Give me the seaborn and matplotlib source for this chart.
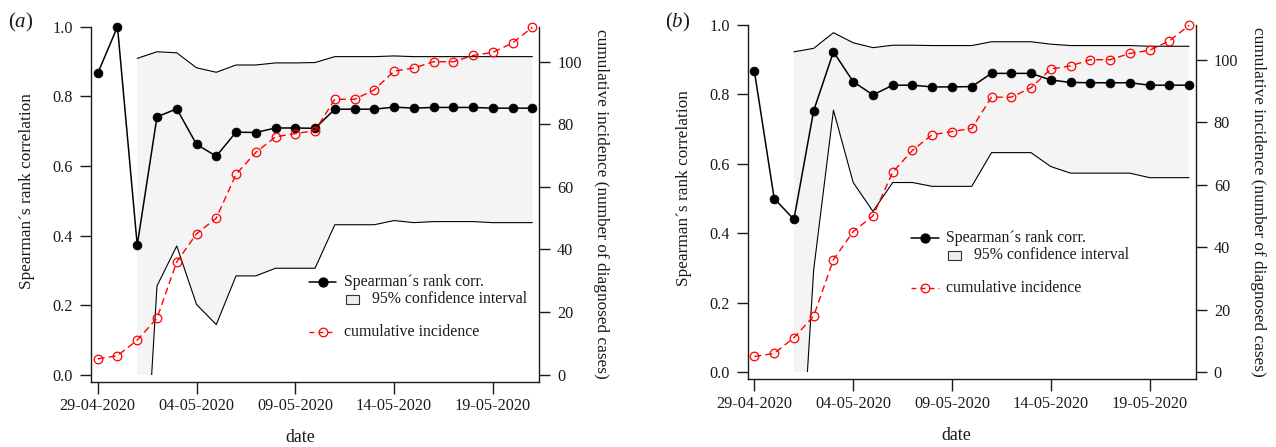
import numpy as np
import pandas as pd
import matplotlib
matplotlib.use("Agg")
import matplotlib.pyplot as plt
import matplotlib.transforms as mtransforms
from matplotlib.patches import Rectangle
import seaborn as sns

# ---------------- data ----------------
dates = pd.date_range("2020-04-29", "2020-05-21", freq="D")
tick_labels = ["29-04-2020", "04-05-2020", "09-05-2020", "14-05-2020", "19-05-2020"]

cum_incidence = [5, 6, 11, 18, 36, 45, 50, 64, 71, 76, 77, 78, 88, 88, 91,
                 97, 98, 100, 100, 102, 103, 106, 111]

rho_a = [0.866, 1.000, 0.372, 0.741, 0.764, 0.662, 0.628, 0.697, 0.696, 0.709,
         0.709, 0.708, 0.763, 0.763, 0.763, 0.769, 0.766, 0.768, 0.768, 0.768,
         0.766, 0.766, 0.766]
ci_low_a = [np.nan, np.nan, -0.69, 0.255, 0.370, 0.202, 0.144, 0.284, 0.284, 0.306,
            0.306, 0.306, 0.431, 0.431, 0.431, 0.443, 0.437, 0.440, 0.440, 0.440,
            0.437, 0.437, 0.437]
ci_up_a = [np.nan, np.nan, 0.909, 0.928, 0.925, 0.882, 0.869, 0.890, 0.890, 0.896,
           0.896, 0.897, 0.914, 0.914, 0.914, 0.916, 0.914, 0.914, 0.914, 0.914,
           0.914, 0.914, 0.914]

rho_b = [0.866, 0.500, 0.440, 0.753, 0.922, 0.836, 0.798, 0.826, 0.826, 0.821,
         0.821, 0.822, 0.860, 0.860, 0.860, 0.841, 0.834, 0.833, 0.833, 0.833,
         0.826, 0.826, 0.826]
ci_low_b = [np.nan, np.nan, -0.63, 0.295, 0.754, 0.546, 0.463, 0.546, 0.546, 0.535,
            0.535, 0.535, 0.632, 0.632, 0.632, 0.592, 0.573, 0.573, 0.573, 0.573,
            0.560, 0.560, 0.560]
ci_up_b = [np.nan, np.nan, 0.922, 0.932, 0.977, 0.948, 0.934, 0.941, 0.941, 0.940,
           0.940, 0.940, 0.951, 0.951, 0.951, 0.944, 0.940, 0.940, 0.940, 0.940,
           0.938, 0.938, 0.938]

legend_labels = ["Spearman\u00b4s rank corr.", "95% confidence interval", "cumulative incidence"]

# ---------------- style ----------------
sns.set_style("ticks")
plt.rcParams["font.family"] = ["Liberation Serif", "DejaVu Serif"]
plt.rcParams["mathtext.fontset"] = "custom"
plt.rcParams["mathtext.rm"] = "Liberation Serif"
plt.rcParams["mathtext.it"] = "Liberation Serif:italic"
plt.rcParams["axes.linewidth"] = 1.0

TXT = "#1a1a1a"
FW, FH = 1276, 447
fig = plt.figure(figsize=(FW / 100, FH / 100), dpi=100)

day = pd.Timedelta(days=1)
xlim = (dates[0] - 0.34 * day, dates[0] + 22.35 * day)
tick_pos = pd.to_datetime(tick_labels, format="%d-%m-%Y")


def panel(rect_px, rho, lo, up, letter, leg_px):
    l, t, r, b = rect_px
    w, h = r - l, b - t
    ax = fig.add_axes([l / FW, 1 - b / FH, w / FW, h / FH])
    ax2 = ax.twinx()
    ax.set_facecolor("none")

    df = pd.DataFrame({"date": dates, "rho": rho, "lo": lo, "up": up, "cum": cum_incidence})
    sub = df.dropna()

    clip = Rectangle((0, 0), 1, 5, transform=mtransforms.blended_transform_factory(ax.transAxes, ax.transData),
                     facecolor="none", edgecolor="none")
    ax.add_patch(clip)
    poly = ax.fill_between(sub["date"], sub["lo"], sub["up"], color="#f4f4f4", lw=0, zorder=1)
    poly.set_clip_path(clip)
    for col in ["lo", "up"]:
        sns.lineplot(data=sub, x="date", y=col, ax=ax, color="black", linewidth=0.8, zorder=2)
        ax.lines[-1].set_clip_path(clip)

    sns.lineplot(data=df, x="date", y="rho", ax=ax, color="black", linewidth=1.1,
                 marker="o", markersize=6.4, markeredgecolor="black", markerfacecolor="black",
                 markeredgewidth=0.5, zorder=3)
    ax.lines[-1].set_clip_on(False)

    sns.lineplot(data=df, x="date", y="cum", ax=ax2, color="red", linewidth=1.0,
                 marker="o", markersize=6.2, markerfacecolor="none", markeredgecolor="red",
                 markeredgewidth=0.9, zorder=3)
    rl = ax2.lines[-1]
    rl.set_linestyle((0, (5, 3)))
    rl.set_clip_on(False)

    ax.set_xlim(*xlim)
    ax.set_ylim(-0.02, 1.0)
    ax2.set_ylim(-2.3, 111.2)
    ax.set_xticks(tick_pos)
    ax.set_xticklabels(tick_labels)
    ax.set_yticks([0.0, 0.2, 0.4, 0.6, 0.8, 1.0])
    ax.set_yticklabels(["0.0", "0.2", "0.4", "0.6", "0.8", "1.0"])
    ax2.set_yticks([0, 20, 40, 60, 80, 100])

    for s in ["top", "right"]:
        ax.spines[s].set_visible(False)
    for s in ["top", "left", "bottom"]:
        ax2.spines[s].set_visible(False)
    for a in (ax, ax2):
        for s in a.spines.values():
            s.set_color(TXT)
            s.set_linewidth(1.0)
    ax.tick_params(axis="x", direction="out", length=8.4, width=1.0, pad=3.5,
                   labelsize=11.7, colors=TXT)
    ax.tick_params(axis="y", direction="out", length=8.0, width=1.0, pad=5,
                   labelsize=11.7, colors=TXT)
    ax2.tick_params(axis="y", direction="out", length=8.0, width=1.0, pad=4.8,
                    labelsize=11.7, colors=TXT)

    ax.set_xlabel("date", fontsize=12.8, color=TXT, va="center")
    ax.xaxis.set_label_coords(0.466, -0.158)
    ax.set_ylabel("Spearman\u00b4s rank correlation", fontsize=12.4, color=TXT,
                  va="center", ha="center")
    ax.yaxis.set_label_coords(-0.143, 0.538)
    ax2.set_ylabel("cumulative incidence (number of diagnosed cases)", fontsize=12.4,
                   color=TXT, rotation=270, va="center", ha="center")
    ax2.yaxis.set_label_coords(1.138, 0.5)

    fig.text((l - 70) / FW, 1 - 22 / FH, r"($\it{" + letter + r"}$)", fontsize=15,
             ha="center", va="center", color=TXT)

    # legend keys (axes-pixel offsets)
    mx, my = leg_px  # marker centre of first row, px within axes (from left, from top)
    fx = lambda px: px / w
    fy = lambda py: 1 - py / h
    T = ax2.transAxes
    ax2.plot([fx(mx - 13.7), fx(mx + 13.7)], [fy(my), fy(my)], color="black", lw=1.1,
             transform=T, clip_on=False)
    ax2.plot([fx(mx)], [fy(my)], "o", color="black", ms=6.4, transform=T, clip_on=False)
    ax2.text(fx(mx + 21.5), fy(my), legend_labels[0], transform=T, fontsize=11.4,
             va="center", ha="left", color=TXT)
    ax2.add_patch(Rectangle((fx(mx + 23), fy(my + 17 + 4.5)), fx(13), 9 / h, transform=T,
                            facecolor="#eeeeee", edgecolor="#333333", lw=0.8, clip_on=False))
    ax2.text(fx(mx + 49.5), fy(my + 17), legend_labels[1], transform=T, fontsize=11.4,
             va="center", ha="left", color=TXT)
    ax2.plot([fx(mx - 13.7), fx(mx + 13.7)], [fy(my + 50), fy(my + 50)], color="red", lw=1.0,
             ls=(0, (3.5, 3)), transform=T, clip_on=False)
    ax2.plot([fx(mx)], [fy(my + 50)], "o", mfc="none", mec="red", mew=0.9, ms=6.2,
             transform=T, clip_on=False)
    ax2.text(fx(mx + 21.5), fy(my + 50), legend_labels[2], transform=T, fontsize=11.4,
             va="center", ha="left", color=TXT)
    return ax, ax2


panel((91, 26.7, 539.3, 381.7), rho_a, ci_low_a, ci_up_a, "a", (231.7, 255.6))
panel((747.7, 24.7, 1196, 379.3), rho_b, ci_low_b, ci_up_b, "b", (177.3, 213.6))

fig.savefig("out.png", dpi=100)
